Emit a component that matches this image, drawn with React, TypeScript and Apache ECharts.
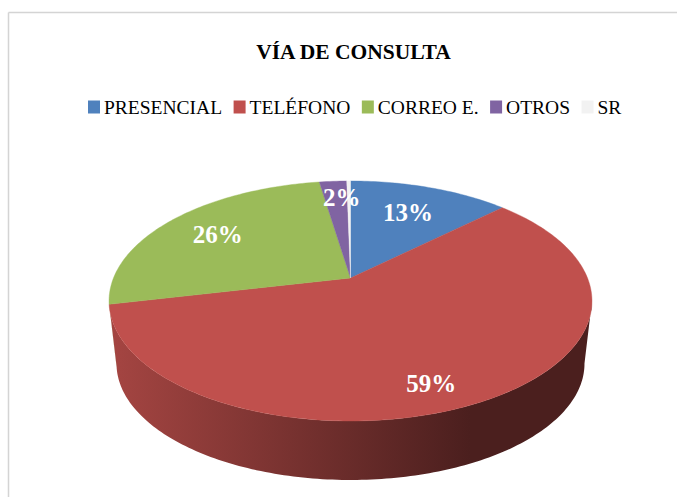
import React, { useEffect, useRef } from "react";
import * as echarts from "echarts";

const categories = ["PRESENCIAL", "TELÉFONO", "CORREO E.", "OTROS", "SR"];
const shares = [12.9, 58.6, 26.0, 2.2, 0.3];
const colors = ["#4F81BD", "#C0504D", "#9BBB59", "#8064A2", "#F2F2F2"];
const labelRadii = [0.69, 0.83, 0.73, 0.81, 0];
const labelAngleShift = [0, 7.6, 0, 2, 0];
const titleText = "VÍA DE CONSULTA";

const CX = 350.5;
const CY_TOP = 278;
const CY_BOTTOM = 341.4;
const A = 237;
const B = 115.6;
const K = 0.1916;
const BOTTOM_SCALE = 0.969;
const total = shares.reduce((s, v) => s + v, 0);
const starts = shares.map((_, i) => (shares.slice(0, i).reduce((s, v) => s + v, 0) / total) * 360);
const rad = (d: number) => (d * Math.PI) / 180;

function project(theta: number, r = 1, scale = 1, cy = CY_TOP): number[] {
  const u = r * Math.sin(rad(theta));
  const v = r * Math.cos(rad(theta));
  const d = 1 + K * v;
  return [CX + (scale * A * u) / d, cy - (scale * B * v) / d];
}

function arc(from: number, to: number, scale = 1, cy = CY_TOP): number[][] {
  const pts: number[][] = [];
  const n = Math.max(2, Math.ceil(Math.abs(to - from)));
  for (let i = 0; i <= n; i++) pts.push(project(from + ((to - from) * i) / n, 1, scale, cy));
  return pts;
}

function shade(hex: string, f: number): string {
  const n = parseInt(hex.slice(1), 16);
  const c = [(n >> 16) & 255, (n >> 8) & 255, n & 255].map((x) => Math.round(x * f));
  return `rgb(${c[0]},${c[1]},${c[2]})`;
}

const sideSeries = {
  type: "custom",
  name: "side",
  coordinateSystem: "none",
  silent: true,
  data: shares,
  renderItem: (params: any, api: any) => {
    const i = params.dataIndex;
    const sweep = (api.value(0) / total) * 360;
    const from = Math.max(starts[i], 101);
    const to = Math.min(starts[i] + sweep, 258);
    if (to <= from) return { type: "group", children: [] };
    const points = [...arc(from, to), ...arc(from, to, BOTTOM_SCALE, CY_BOTTOM).reverse()];
    return {
      type: "polygon",
      shape: { points },
      style: {
        fill: new echarts.graphic.LinearGradient(
          110, 0, 470, 0,
          [
            { offset: 0, color: shade(colors[i], 0.86) },
            { offset: 1, color: shade(colors[i], 0.39) },
          ],
          true
        ),
      },
    };
  },
};

const topSeries = categories.map((name, idx) => ({
  type: "custom",
  name,
  coordinateSystem: "none",
  silent: true,
  itemStyle: { color: colors[idx] },
  data: [shares[idx]],
  renderItem: (_params: any, api: any) => {
    const sweep = (api.value(0) / total) * 360;
    const from = starts[idx];
    const points = [[CX, CY_TOP], ...arc(from, from + sweep)];
    const children: any[] = [
      {
        type: "polygon",
        shape: { points },
        style: { fill: colors[idx], stroke: colors[idx], lineWidth: 0.4 },
      },
    ];
    if (labelRadii[idx] > 0) {
      const [lx, ly] = project(from + sweep / 2 + labelAngleShift[idx], labelRadii[idx]);
      children.push({
        type: "text",
        z2: 100,
        x: lx,
        y: ly,
        style: {
          text: `${Math.round((api.value(0) / total) * 100)}%`,
          fill: "#FFFFFF",
          font: 'bold 25px "Liberation Serif", serif',
          align: "center",
          verticalAlign: "middle",
        },
      });
    }
    return { type: "group", children };
  },
}));

export default function App() {
  const ref = useRef<HTMLDivElement>(null);
  useEffect(() => {
    document.body.style.margin = "0";
    const chart = echarts.init(ref.current!, undefined, { renderer: "svg" });
    chart.setOption({
      animation: false,
      backgroundColor: "#FFFFFF",
      title: {
        text: titleText,
        left: 348.5,
        top: 36,
        textAlign: "center",
        textStyle: {
          color: "#000000",
          fontFamily: '"Liberation Serif", serif',
          fontWeight: "bold",
          fontSize: 21.5,
        },
      },
      legend: {
        data: categories,
        left: 83,
        top: 92,
        itemWidth: 12,
        itemHeight: 13,
        itemGap: 11.5,
        icon: "rect",
        selectedMode: false,
        textStyle: {
          color: "#000000",
          fontFamily: '"Liberation Serif", serif',
          fontSize: 19.5,
          padding: [0, 0, 0, -1],
        },
      },
      graphic: [
        { type: "line", silent: true, shape: { x1: 8.5, y1: 12.5, x2: 677, y2: 12.5 }, style: { stroke: "#D4D4D4", lineWidth: 1.5 } },
        { type: "line", silent: true, shape: { x1: 8.5, y1: 12.5, x2: 8.5, y2: 497 }, style: { stroke: "#D4D4D4", lineWidth: 1.5 } },
      ],
      series: [sideSeries, ...topSeries],
    });
    return () => chart.dispose();
  }, []);
  return <div ref={ref} style={{ width: 677, height: 497 }} />;
}
